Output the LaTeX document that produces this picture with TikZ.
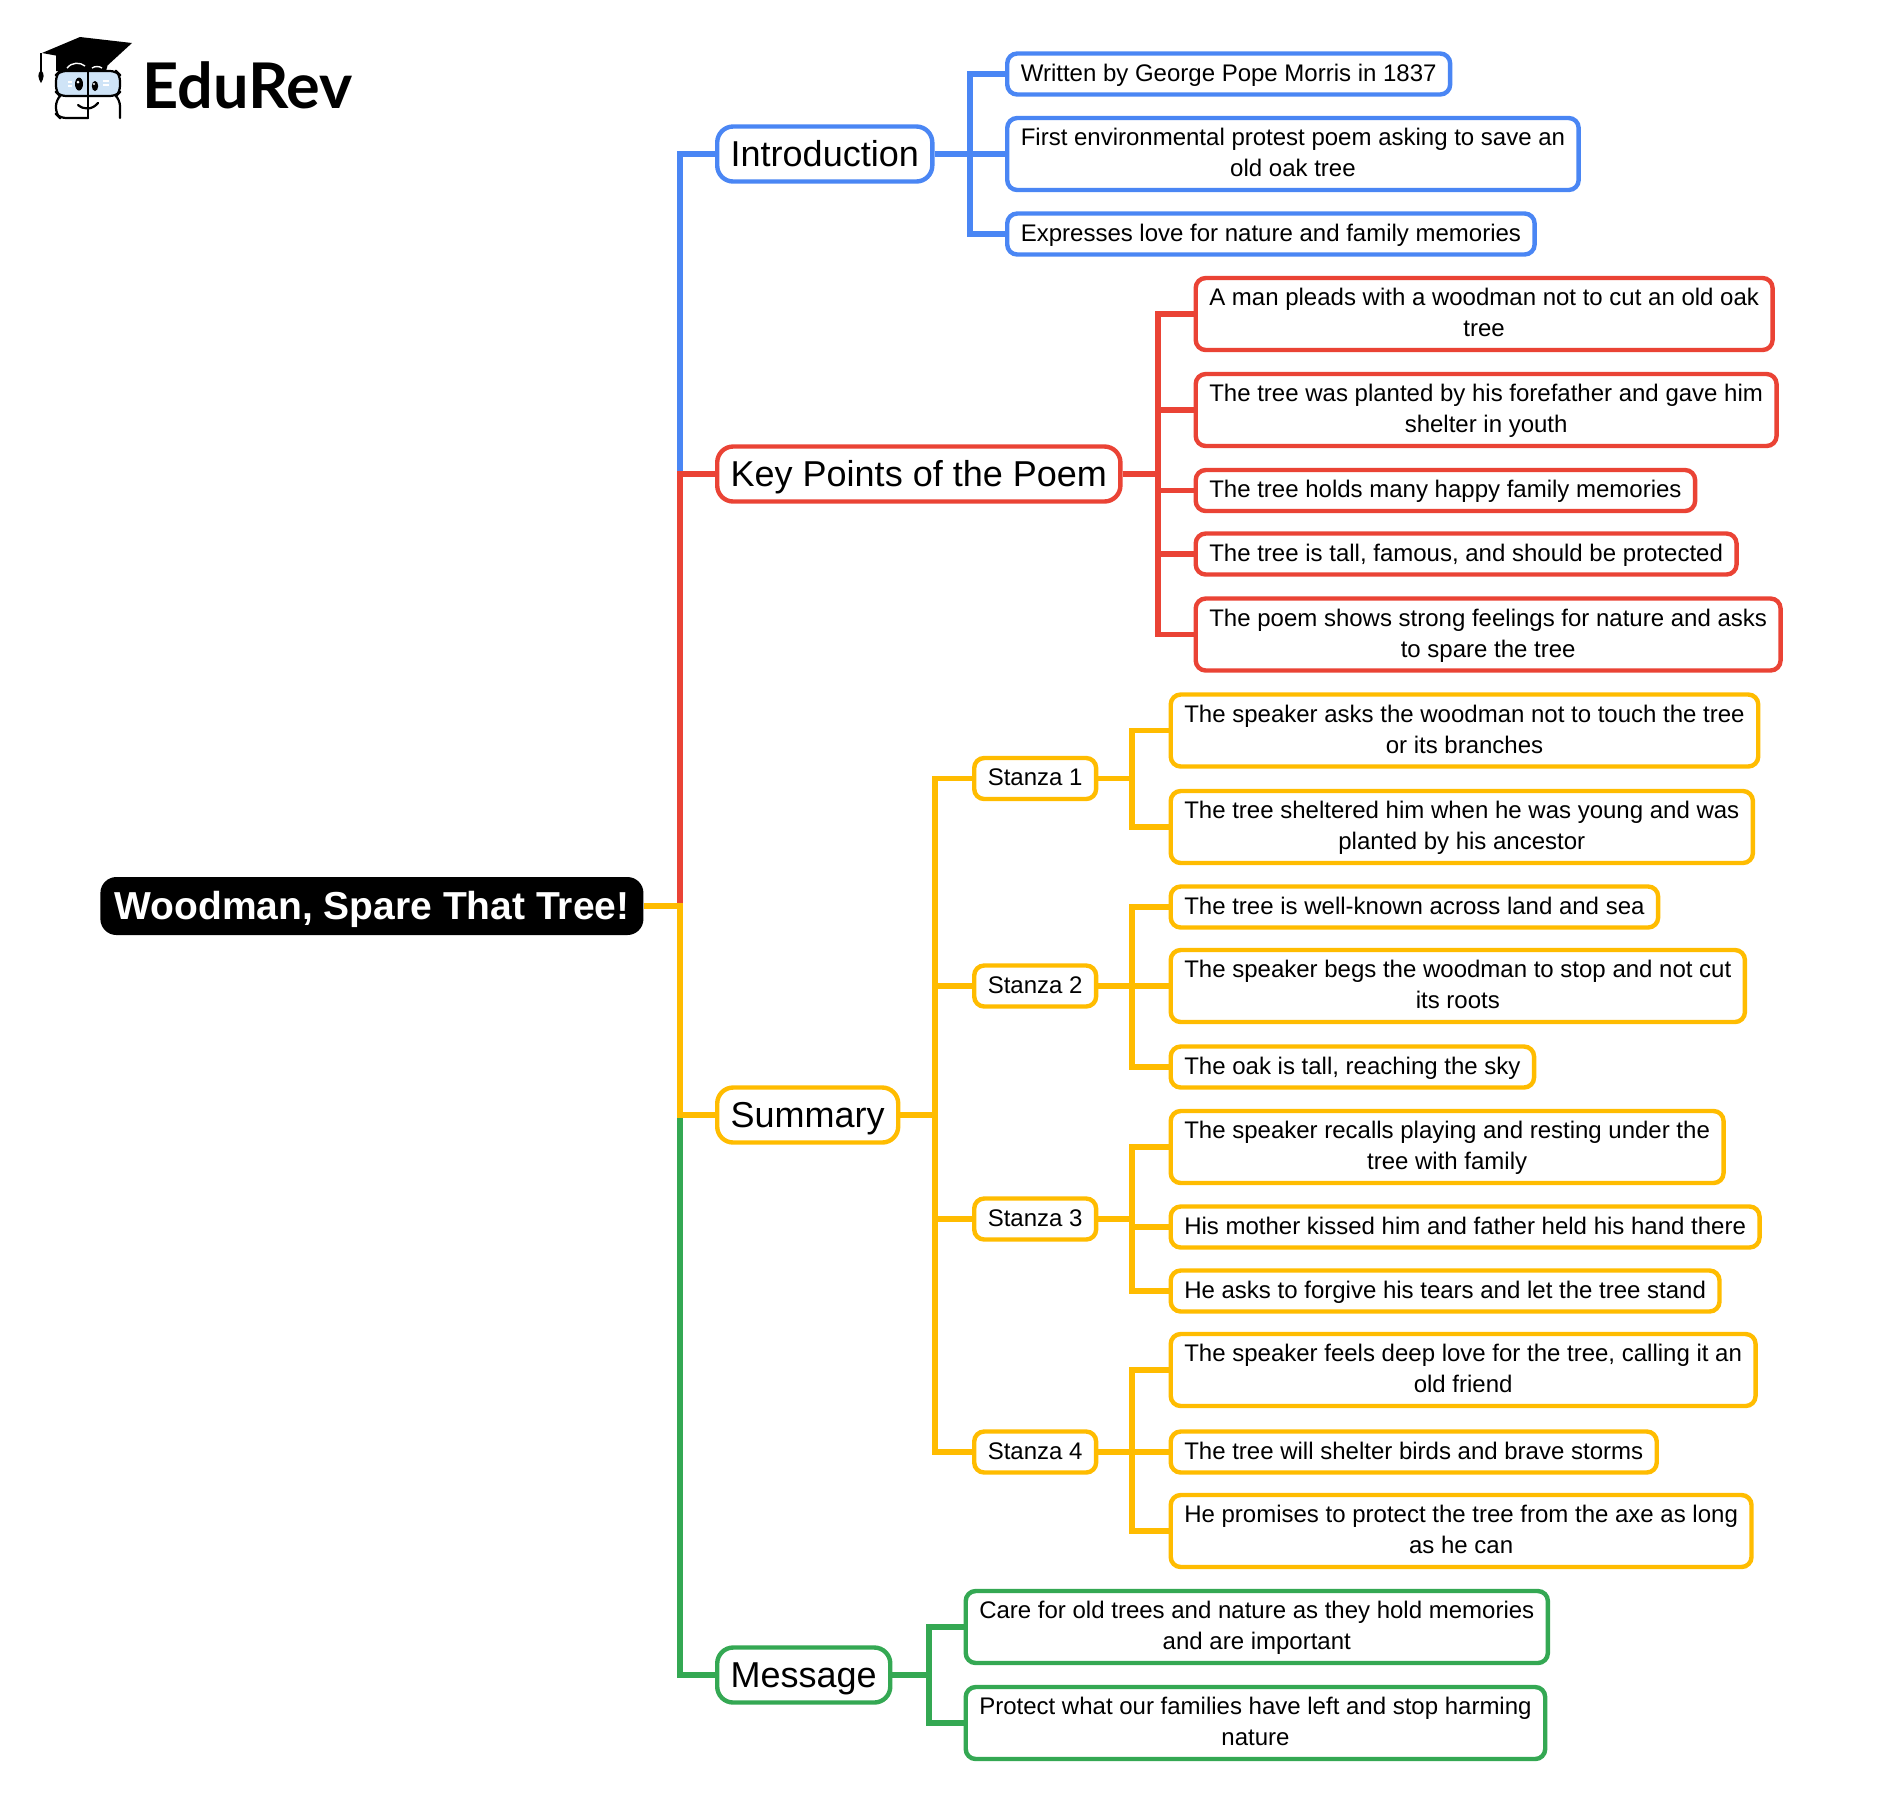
\documentclass[tikz,border=0pt]{standalone}
\usepackage{fontspec}
\setmainfont{Liberation Sans}
\newfontfamily\logofont{Lato}
\usetikzlibrary{calc}

\definecolor{introblue}{HTML}{4A86F4}
\definecolor{keyred}{HTML}{EA4335}
\definecolor{sumyellow}{HTML}{FFBC00}
\definecolor{msggreen}{HTML}{34A853}
\definecolor{glassblue}{HTML}{CFE4F7}

\newcommand{\rootstrut}{\rule[-4.05pt]{0pt}{21.5pt}}
\newcommand{\topstrut}{\rule[-4.65pt]{0pt}{21.5pt}}
\newcommand{\leafstrut}{\rule[-4.05pt]{0pt}{15.5pt}}

\tikzset{
    link/.style={line width=2.6pt,line join=miter},
    rootbox/.style={fill=black,text=white,rounded corners=8pt,anchor=west,inner xsep=7pt,inner ysep=3.75pt,
        font=\fontsize{19.5}{21.5}\selectfont\bfseries,execute at end node=\rootstrut},
    topbox/.style={draw,fill=white,line width=2.2pt,rounded corners=8pt,anchor=west,inner xsep=6.75pt,inner ysep=3pt,
        font=\fontsize{18}{21.5}\selectfont,execute at end node=\topstrut},
    leafbox/.style={draw,fill=white,line width=2.2pt,rounded corners=5pt,anchor=west,inner xsep=6.8pt,inner ysep=2.5pt,
        align=center,font=\fontsize{12}{15.5}\selectfont,execute at end node=\leafstrut},
    booktrim/.style={line width=1.1pt,line cap=round,line join=round}
}

\begin{document}
\begin{tikzpicture}[x=0.5pt,y=-0.5pt]
    \useasboundingbox (0,0) rectangle (1883,1812);

    % logo
    \fill[glassblue,rounded corners=3pt] (56,72) rectangle (120,96);
    \draw[booktrim,rounded corners=3pt] (88,71) -- (60,71) -- (56,75) -- (56,92) -- (60,96) -- (88,96);
    \draw[booktrim,rounded corners=3pt] (88,71) -- (116,71) -- (120,75) -- (120,92) -- (116,96) -- (88,96);
    \draw[booktrim,rounded corners=3pt] (60,96) -- (56,100) -- (56,114) -- (60,118) -- (88,118);
    \draw[booktrim,rounded corners=3pt] (116,96) -- (120,100) -- (120,118);
    \draw[booktrim] (88,71) -- (88,118);
    \fill (56,54) -- (108,64) -- (106,71) -- (56,71) -- cycle;
    \fill (42,53) -- (80,37) -- (132,43) -- (108,65) -- cycle;
    \draw[white,line width=.7pt] (67,68) .. controls (72,62) and (80,62) .. (85,66);
    \draw[white,line width=.7pt] (92,68) .. controls (95,66) and (99,66) .. (102,68);
    \draw[line width=.8pt] (41,53) -- (41,72);
    \fill (41,70) .. controls (37,74) and (38,78) .. (41,83) .. controls (44,78) and (45,74) .. (41,70);
    \fill (79,84) ellipse [x radius=4,y radius=6.5];
    \fill (95,86) ellipse [x radius=3.2,y radius=5];
    \fill[white] (78,82) circle (1.5);
    \fill[white] (94,84) circle (1.2);
    \draw[white,line width=.6pt] (68,82) -- (72,82) (68,86) -- (72,86);
    \draw[white,line width=.6pt] (103,81) -- (109,81) (103,85) -- (109,85);
    \draw[booktrim] (78,105) .. controls (84,110) and (92,110) .. (98,103);
    \node[font=\logofont\fontsize{31.5}{33}\selectfont\bfseries,anchor=west,inner sep=0pt] (logotext) at (142,85) {EduRev};

    % main nodes
    \node[rootbox] (root) at (100,906) {Woodman, Spare That Tree!};
    \coordinate (trunk) at (680,906);
    \node[topbox,draw=introblue] (intro) at (715,154) {Introduction};
    \node[topbox,draw=keyred] (keypts) at (715,474) {Key Points of the Poem};
    \node[topbox,draw=sumyellow] (summary) at (715,1115) {Summary};
    \node[topbox,draw=msggreen] (message) at (715,1675) {Message};

    % introduction
    \coordinate (introbus) at (970,154);
    \node[leafbox,draw=introblue] (introa) at (1005,74) {Written by George Pope Morris in 1837};
    \node[leafbox,draw=introblue] (introb) at (1005,154) {\leafstrut First environmental protest poem asking to save an\\old oak tree};
    \node[leafbox,draw=introblue] (introc) at (1005,234) {Expresses love for nature and family memories};

    % key points
    \coordinate (keybus) at (1158,474);
    \node[leafbox,draw=keyred] (keya) at (1193.5,314) {\leafstrut A man pleads with a woodman not to cut an old oak\\tree};
    \node[leafbox,draw=keyred] (keyb) at (1193.5,410) {\leafstrut The tree was planted by his forefather and gave him\\shelter in youth};
    \node[leafbox,draw=keyred] (keyc) at (1193.5,490.5) {The tree holds many happy family memories};
    \node[leafbox,draw=keyred] (keyd) at (1193.5,554) {The tree is tall, famous, and should be protected};
    \node[leafbox,draw=keyred] (keye) at (1193.5,634.5) {\leafstrut The poem shows strong feelings for nature and asks\\to spare the tree};

    % summary
    \coordinate (sumbus) at (935,1115);
    \node[leafbox,draw=sumyellow] (stanzaa) at (972,778.5) {Stanza 1};
    \node[leafbox,draw=sumyellow] (stanzab) at (972,986) {Stanza 2};
    \node[leafbox,draw=sumyellow] (stanzac) at (972,1219) {Stanza 3};
    \node[leafbox,draw=sumyellow] (stanzad) at (972,1452) {Stanza 4};
    \coordinate (stabus) at (1132,778.5);
    \coordinate (stbbus) at (1132,986);
    \coordinate (stcbus) at (1132,1219);
    \coordinate (stdbus) at (1132,1452);
    \node[leafbox,draw=sumyellow] (staa) at (1168.5,730.5) {\leafstrut The speaker asks the woodman not to touch the tree\\or its branches};
    \node[leafbox,draw=sumyellow] (stab) at (1168.5,827) {\leafstrut The tree sheltered him when he was young and was\\planted by his ancestor};
    \node[leafbox,draw=sumyellow] (stba) at (1168.5,907) {The tree is well-known across land and sea};
    \node[leafbox,draw=sumyellow] (stbb) at (1168.5,986) {\leafstrut The speaker begs the woodman to stop and not cut\\its roots};
    \node[leafbox,draw=sumyellow] (stbc) at (1168.5,1067) {The oak is tall, reaching the sky};
    \node[leafbox,draw=sumyellow] (stca) at (1168.5,1147) {\leafstrut The speaker recalls playing and resting under the\\tree with family};
    \node[leafbox,draw=sumyellow] (stcb) at (1168.5,1227) {His mother kissed him and father held his hand there};
    \node[leafbox,draw=sumyellow] (stcc) at (1168.5,1291) {He asks to forgive his tears and let the tree stand};
    \node[leafbox,draw=sumyellow] (stda) at (1168.5,1370) {\leafstrut The speaker feels deep love for the tree, calling it an\\old friend};
    \node[leafbox,draw=sumyellow] (stdb) at (1168.5,1452) {The tree will shelter birds and brave storms};
    \node[leafbox,draw=sumyellow] (stdc) at (1168.5,1531) {\leafstrut He promises to protect the tree from the axe as long\\as he can};

    % message
    \coordinate (msgbus) at (929,1675);
    \node[leafbox,draw=msggreen] (msga) at (963.5,1627) {\leafstrut Care for old trees and nature as they hold memories\\and are important};
    \node[leafbox,draw=msggreen] (msgb) at (963.5,1723) {\leafstrut Protect what our families have left and stop harming\\nature};

    % connectors
    \foreach \kid/\col in {intro/introblue,keypts/keyred,message/msggreen,summary/sumyellow}
        \draw[link,\col] (root.east) -- (trunk) |- (\kid.west);
    \foreach \kid in {introa,introb,introc}
        \draw[link,introblue] (intro.east) -- (introbus) |- (\kid.west);
    \foreach \kid in {keya,keyb,keyc,keyd,keye}
        \draw[link,keyred] (keypts.east) -- (keybus) |- (\kid.west);
    \foreach \kid in {stanzaa,stanzab,stanzac,stanzad}
        \draw[link,sumyellow] (summary.east) -- (sumbus) |- (\kid.west);
    \foreach \from/\bus/\kid in {stanzaa/stabus/staa,stanzaa/stabus/stab,stanzab/stbbus/stba,stanzab/stbbus/stbb,stanzab/stbbus/stbc,stanzac/stcbus/stca,stanzac/stcbus/stcb,stanzac/stcbus/stcc,stanzad/stdbus/stda,stanzad/stdbus/stdb,stanzad/stdbus/stdc}
        \draw[link,sumyellow] (\from.east) -- (\bus) |- (\kid.west);
    \foreach \kid in {msga,msgb}
        \draw[link,msggreen] (message.east) -- (msgbus) |- (\kid.west);
\end{tikzpicture}
\end{document}
